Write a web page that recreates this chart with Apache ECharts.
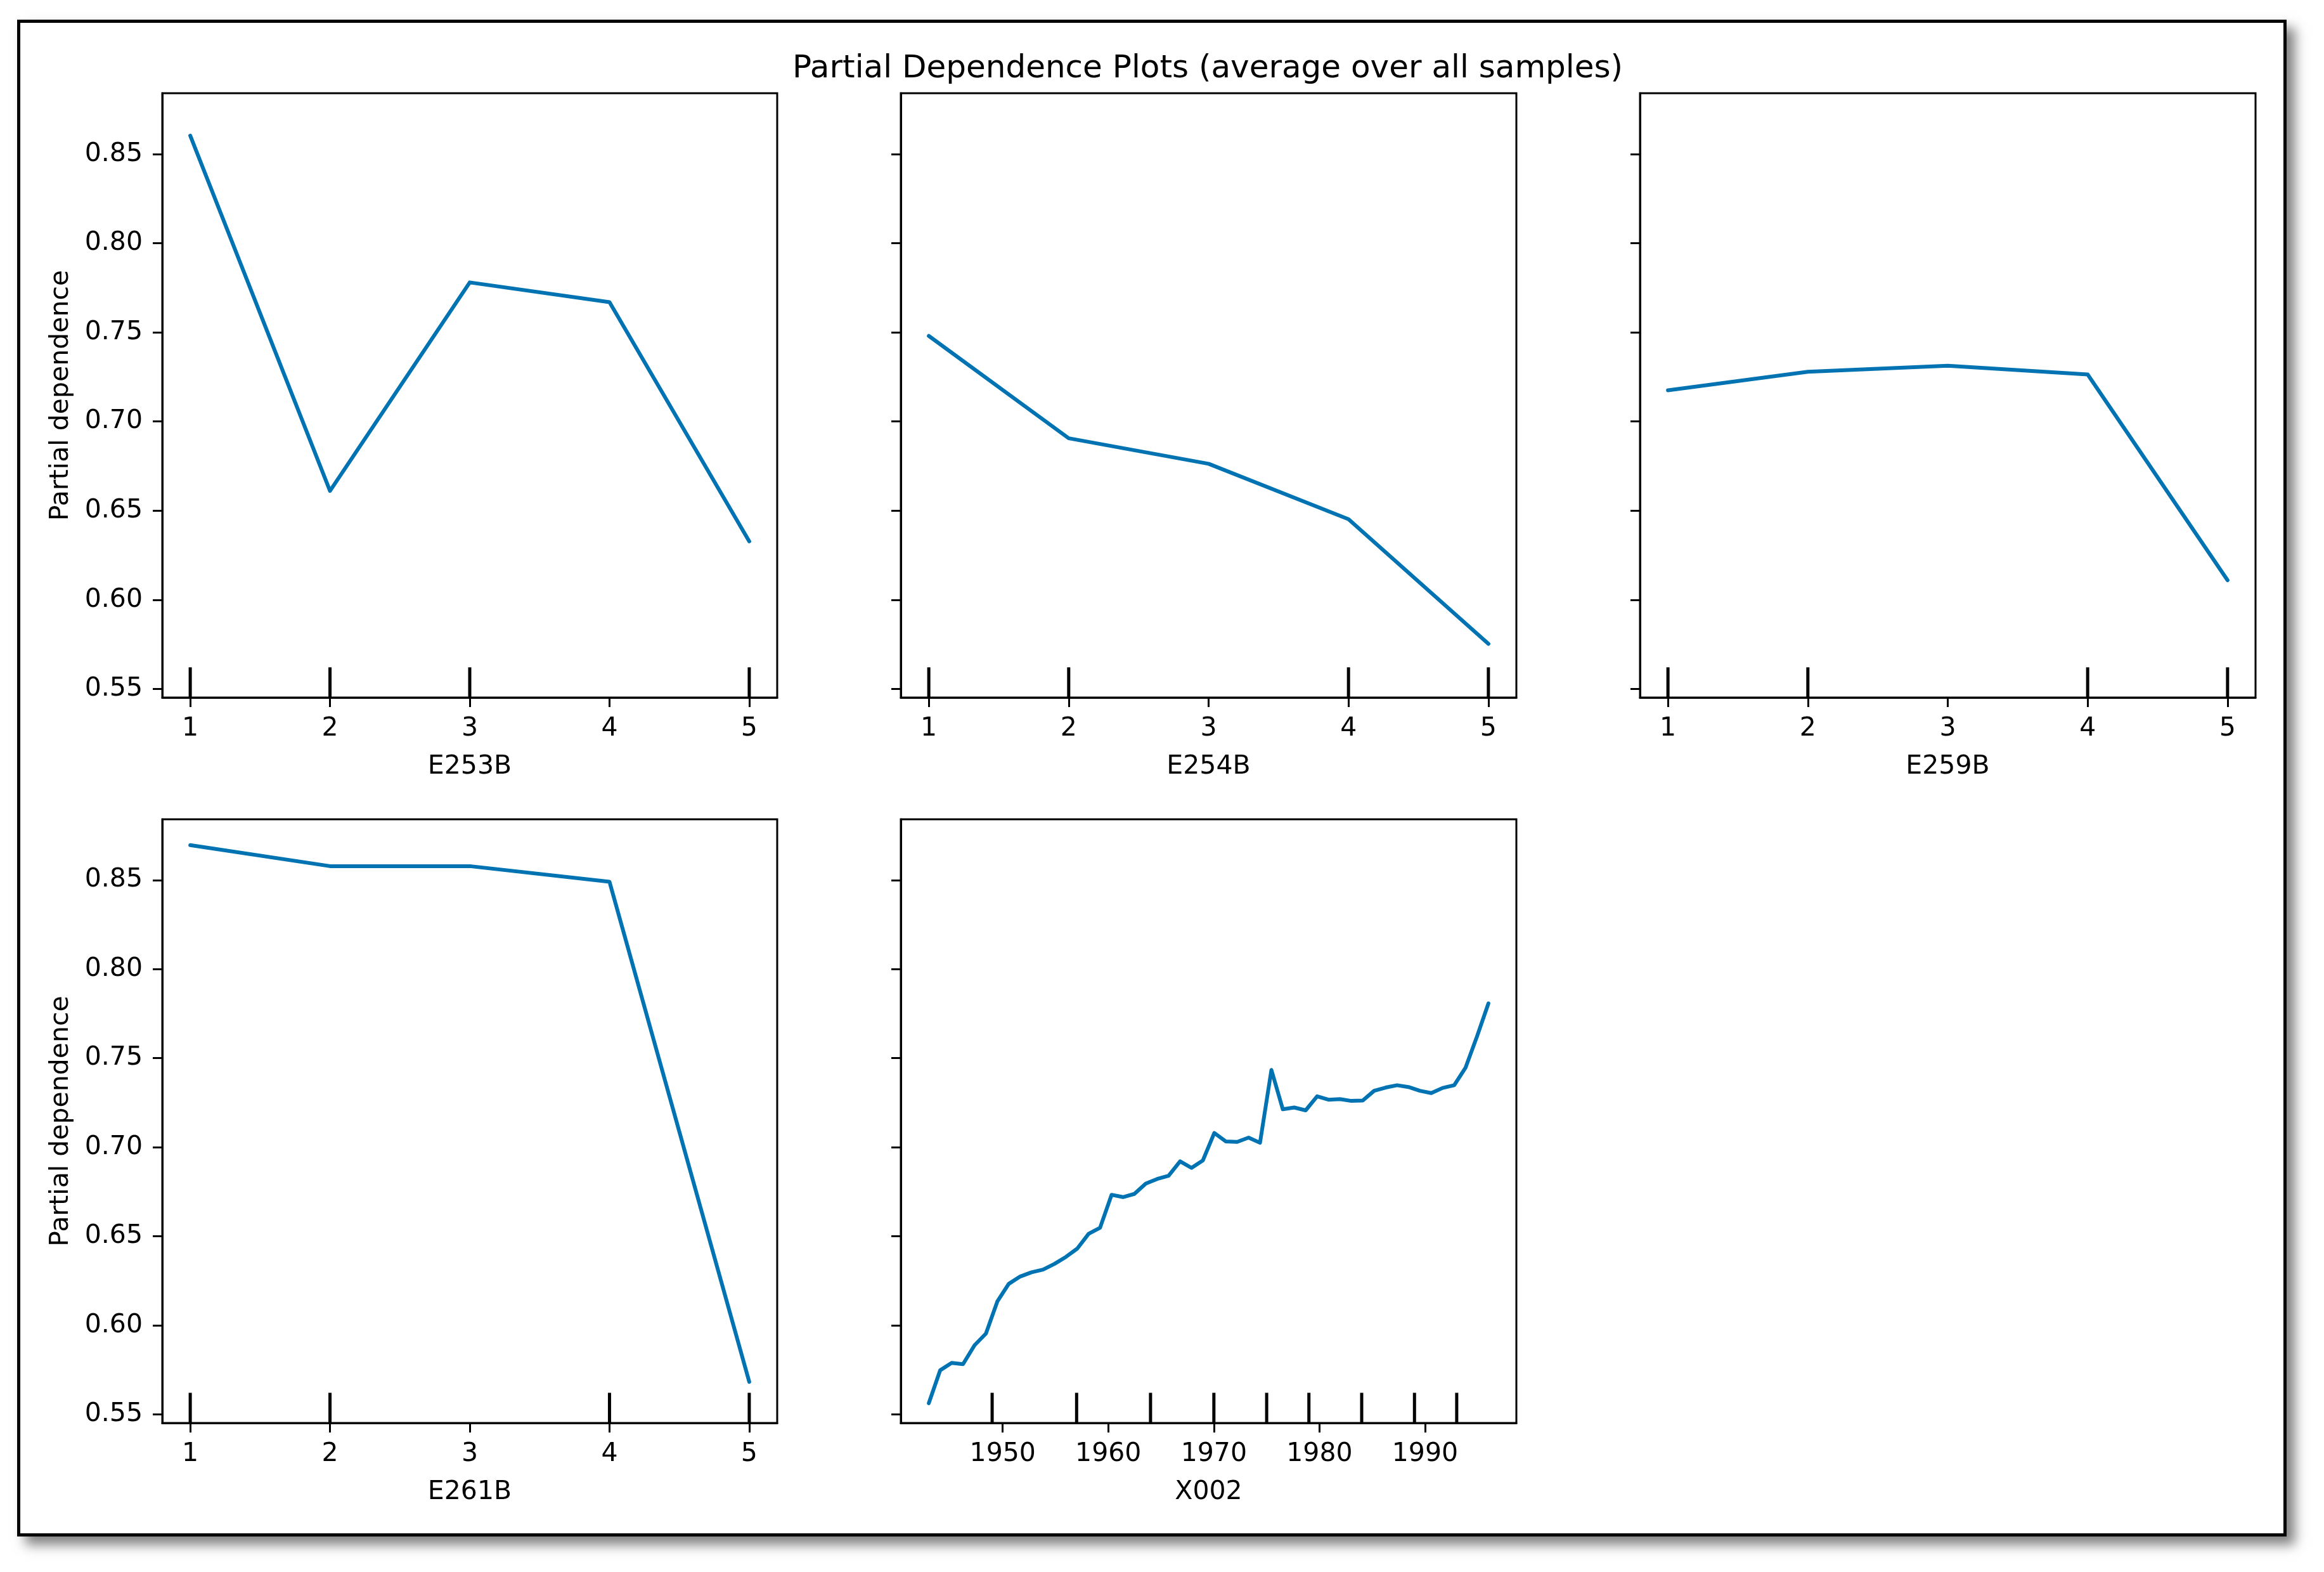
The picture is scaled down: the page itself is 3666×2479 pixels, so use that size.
<!DOCTYPE html>
<html>
<head>
<meta charset="utf-8">
<script src="https://cdn.jsdelivr.net/npm/echarts@6/dist/echarts.min.js"></script>
<style>
  html, body { margin:0; padding:0; background:#fff; width:3666px; height:2479px; overflow:hidden; }
  #frame { position:absolute; left:27px; top:31px; width:3580px; height:2392px; box-sizing:border-box;
           border:5px solid #000; background:#fff; box-shadow:13px 13px 18px rgba(0,0,0,0.5); }
  #chart { position:absolute; left:0; top:0; width:3666px; height:2479px; }
</style>
</head>
<body>
<div id="frame"></div>
<div id="chart"></div>
<script>
// ---- data ----
const TITLE = 'Partial Dependence Plots (average over all samples)';
const featureNames = ['E253B', 'E254B', 'E259B', 'E261B', 'X002'];
const levels = [1, 2, 3, 4, 5];
const pdE253B = [0.8603, 0.6611, 0.7780, 0.7669, 0.6328];
const pdE254B = [0.7480, 0.6906, 0.6763, 0.6452, 0.5753];
const pdE259B = [0.7175, 0.7279, 0.7313, 0.7264, 0.6110];
const pdE261B = [0.8696, 0.8578, 0.8578, 0.8490, 0.5683];
const yearsX002 = [1943.00, 1944.08, 1945.16, 1946.24, 1947.33, 1948.41, 1949.49, 1950.57, 1951.65, 1952.73,
                   1953.82, 1954.90, 1955.98, 1957.06, 1958.14, 1959.22, 1960.31, 1961.39, 1962.47, 1963.55,
                   1964.63, 1965.71, 1966.80, 1967.88, 1968.96, 1970.04, 1971.12, 1972.20, 1973.29, 1974.37,
                   1975.45, 1976.53, 1977.61, 1978.69, 1979.78, 1980.86, 1981.94, 1983.02, 1984.10, 1985.18,
                   1986.27, 1987.35, 1988.43, 1989.51, 1990.59, 1991.67, 1992.76, 1993.84, 1994.92, 1996.00];
const pdX002 = [0.5563, 0.5748, 0.5789, 0.5782, 0.5888, 0.5954, 0.6134, 0.6233, 0.6274, 0.6298,
                0.6313, 0.6345, 0.6384, 0.6431, 0.6514, 0.6548, 0.6733, 0.6720, 0.6738, 0.6796,
                0.6822, 0.6840, 0.6921, 0.6884, 0.6926, 0.7080, 0.7033, 0.7030, 0.7054, 0.7025,
                0.7434, 0.7213, 0.7223, 0.7207, 0.7286, 0.7267, 0.7270, 0.7260, 0.7262, 0.7317,
                0.7335, 0.7348, 0.7338, 0.7317, 0.7304, 0.7333, 0.7348, 0.7447, 0.7622, 0.7807];
const decE253B = [1, 2, 3, 5];
const decE254B = [1, 2, 4, 5];
const decE259B = [1, 2, 4, 5];
const decE261B = [1, 2, 4, 5];
const decX002 = [1949, 1957, 1964, 1970, 1975, 1979, 1984, 1989, 1993];
const yTicks = [0.55, 0.60, 0.65, 0.70, 0.75, 0.80, 0.85];
const levelTicks = [1, 2, 3, 4, 5];
const yearTicks = [1950, 1960, 1970, 1980, 1990];
const yRange = [0.5452, 0.8841];
const levelRange = [0.8, 5.2];
const yearRange = [1940.35, 1998.65];
const yLabel = 'Partial dependence';

// ---- layout / style ----
const FONT = 'DejaVu Sans';
const BLUE = '#0173b2';
const grids = [
  { left: 256, top: 147, width: 970, height: 953 },
  { left: 1421, top: 147, width: 971, height: 953 },
  { left: 2587, top: 147, width: 971, height: 953 },
  { left: 256, top: 1292, width: 970, height: 952 },
  { left: 1421, top: 1292, width: 971, height: 952 }
];
const panels = [
  { x: levels, y: pdE253B, dec: decE253B, xr: levelRange, xt: levelTicks, ylab: true },
  { x: levels, y: pdE254B, dec: decE254B, xr: levelRange, xt: levelTicks, ylab: false },
  { x: levels, y: pdE259B, dec: decE259B, xr: levelRange, xt: levelTicks, ylab: false },
  { x: levels, y: pdE261B, dec: decE261B, xr: levelRange, xt: levelTicks, ylab: true },
  { x: yearsX002, y: pdX002, dec: decX002, xr: yearRange, xt: yearTicks, ylab: false }
];

const gridOpt = grids.map(g => Object.assign({ show: true, borderColor: '#000', borderWidth: 3,
  backgroundColor: 'transparent', containLabel: false }, g));

const xAxes = panels.map((p, i) => ({
  gridIndex: i, type: 'value', min: p.xr[0], max: p.xr[1],
  name: featureNames[i], nameLocation: 'middle', nameGap: 89,
  nameTextStyle: { fontFamily: FONT, fontSize: 41, color: '#000' },
  axisLine: { show: true, onZero: false, lineStyle: { color: '#000', width: 3 } },
  axisTick: { show: true, length: 15, lineStyle: { color: '#000', width: 3 }, customValues: p.xt },
  axisLabel: { show: true, customValues: p.xt, margin: 29, fontFamily: FONT, fontSize: 41, color: '#000',
               formatter: v => String(Math.round(v)) },
  splitLine: { show: false }
}));

const yAxes = panels.map((p, i) => ({
  gridIndex: i, type: 'value', min: yRange[0], max: yRange[1],
  name: p.ylab ? yLabel : '', nameLocation: 'middle', nameGap: 139, nameRotate: 90,
  nameTextStyle: { fontFamily: FONT, fontSize: 41, color: '#000' },
  axisLine: { show: true, onZero: false, lineStyle: { color: '#000', width: 3 } },
  axisTick: { show: true, length: 15, lineStyle: { color: '#000', width: 3 }, customValues: yTicks },
  axisLabel: { show: p.ylab, customValues: yTicks, margin: 31, fontFamily: FONT, fontSize: 41, color: '#000',
               formatter: v => v.toFixed(2) },
  splitLine: { show: false }
}));

const series = [];
panels.forEach((p, i) => {
  series.push({
    type: 'line', xAxisIndex: i, yAxisIndex: i,
    data: p.x.map((xv, k) => [xv, p.y[k]]),
    showSymbol: false, symbol: 'none', smooth: false, animation: false,
    lineStyle: { color: BLUE, width: 6, cap: 'round', join: 'round' }, z: 3
  });
  series.push({
    type: 'custom', xAxisIndex: i, yAxisIndex: i, animation: false, z: 4,
    data: p.dec.map(d => [d, yRange[0]]),
    encode: { x: 0, y: 1 },
    renderItem: function (params, api) {
      const pt = api.coord([api.value(0), api.value(1)]);
      const cs = params.coordSys;
      const yb = cs.y + cs.height;
      return { type: 'line', shape: { x1: pt[0], y1: yb, x2: pt[0], y2: yb - cs.height * 0.05 },
               style: { stroke: '#000', lineWidth: 5 } };
    }
  });
});

const chart = echarts.init(document.getElementById('chart'), null, { renderer: 'canvas' });
chart.setOption({
  animation: false,
  backgroundColor: 'transparent',
  title: { text: TITLE, left: 1905, top: 109, padding: 0, textAlign: 'center', textVerticalAlign: 'middle',
           textStyle: { fontFamily: FONT, fontSize: 50, fontWeight: 'normal', color: '#000' } },
  grid: gridOpt,
  xAxis: xAxes,
  yAxis: yAxes,
  series: series
});
</script>
</body>
</html>
